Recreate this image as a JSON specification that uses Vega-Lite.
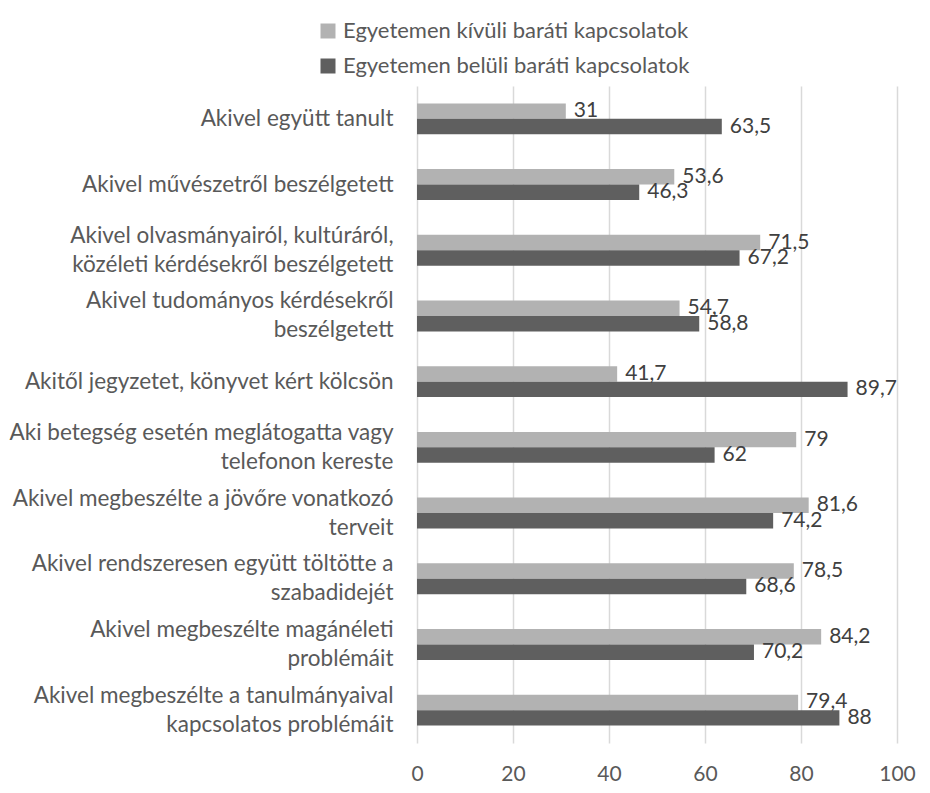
{
  "$schema": "https://vega.github.io/schema/vega-lite/v6.json",
  "width": 480,
  "height": 657,
  "autosize": {"type": "none"},
  "padding": {"left": 417, "top": 86, "right": 33, "bottom": 50},
  "background": "white",
  "config": {
    "font": "Lato",
    "view": {"stroke": null},
    "locale": {"number": {"decimal": ",", "thousands": " ", "grouping": [3], "currency": ["", ""]}}
  },
  "data": {
    "values": [
      {"kategoria": "Akivel együtt tanult", "kor": "Egyetemen kívüli baráti kapcsolatok", "ertek": 31},
      {"kategoria": "Akivel együtt tanult", "kor": "Egyetemen belüli baráti kapcsolatok", "ertek": 63.5},
      {"kategoria": "Akivel művészetről beszélgetett", "kor": "Egyetemen kívüli baráti kapcsolatok", "ertek": 53.6},
      {"kategoria": "Akivel művészetről beszélgetett", "kor": "Egyetemen belüli baráti kapcsolatok", "ertek": 46.3},
      {"kategoria": "Akivel olvasmányairól, kultúráról,\nközéleti kérdésekről beszélgetett", "kor": "Egyetemen kívüli baráti kapcsolatok", "ertek": 71.5},
      {"kategoria": "Akivel olvasmányairól, kultúráról,\nközéleti kérdésekről beszélgetett", "kor": "Egyetemen belüli baráti kapcsolatok", "ertek": 67.2},
      {"kategoria": "Akivel tudományos kérdésekről\nbeszélgetett", "kor": "Egyetemen kívüli baráti kapcsolatok", "ertek": 54.7},
      {"kategoria": "Akivel tudományos kérdésekről\nbeszélgetett", "kor": "Egyetemen belüli baráti kapcsolatok", "ertek": 58.8},
      {"kategoria": "Akitől jegyzetet, könyvet kért kölcsön", "kor": "Egyetemen kívüli baráti kapcsolatok", "ertek": 41.7},
      {"kategoria": "Akitől jegyzetet, könyvet kért kölcsön", "kor": "Egyetemen belüli baráti kapcsolatok", "ertek": 89.7},
      {"kategoria": "Aki betegség esetén meglátogatta vagy\ntelefonon kereste", "kor": "Egyetemen kívüli baráti kapcsolatok", "ertek": 79},
      {"kategoria": "Aki betegség esetén meglátogatta vagy\ntelefonon kereste", "kor": "Egyetemen belüli baráti kapcsolatok", "ertek": 62},
      {"kategoria": "Akivel megbeszélte a jövőre vonatkozó\nterveit", "kor": "Egyetemen kívüli baráti kapcsolatok", "ertek": 81.6},
      {"kategoria": "Akivel megbeszélte a jövőre vonatkozó\nterveit", "kor": "Egyetemen belüli baráti kapcsolatok", "ertek": 74.2},
      {"kategoria": "Akivel rendszeresen együtt töltötte a\nszabadidejét", "kor": "Egyetemen kívüli baráti kapcsolatok", "ertek": 78.5},
      {"kategoria": "Akivel rendszeresen együtt töltötte a\nszabadidejét", "kor": "Egyetemen belüli baráti kapcsolatok", "ertek": 68.6},
      {"kategoria": "Akivel megbeszélte magánéleti\nproblémáit", "kor": "Egyetemen kívüli baráti kapcsolatok", "ertek": 84.2},
      {"kategoria": "Akivel megbeszélte magánéleti\nproblémáit", "kor": "Egyetemen belüli baráti kapcsolatok", "ertek": 70.2},
      {"kategoria": "Akivel megbeszélte a tanulmányaival\nkapcsolatos problémáit", "kor": "Egyetemen kívüli baráti kapcsolatok", "ertek": 79.4},
      {"kategoria": "Akivel megbeszélte a tanulmányaival\nkapcsolatos problémáit", "kor": "Egyetemen belüli baráti kapcsolatok", "ertek": 88}
    ]
  },
  "encoding": {
    "y": {
      "field": "kategoria",
      "type": "nominal",
      "sort": null,
      "title": null,
      "scale": {"paddingInner": 0.53, "paddingOuter": 0.265},
      "axis": {
        "labelExpr": "split(datum.value, '\\n')",
        "labelAlign": "right",
        "labelBaseline": "middle",
        "labelFontSize": 22.5,
        "labelLineHeight": 29,
        "labelColor": "#595959",
        "labelPadding": 24,
        "labelLimit": 0,
        "labelOffset": {
          "condition": {"test": "indexof(datum.value, '\\n') >= 0", "value": -14.5},
          "value": 0
        },
        "ticks": false,
        "domain": false,
        "grid": false
      }
    },
    "x": {
      "field": "ertek",
      "type": "quantitative",
      "title": null,
      "scale": {"domain": [0, 100], "nice": false},
      "axis": {
        "values": [0, 20, 40, 60, 80, 100],
        "labelFontSize": 21,
        "labelColor": "#595959",
        "labelPadding": 20,
        "ticks": false,
        "domain": false,
        "grid": true,
        "gridColor": "#d9d9d9",
        "gridWidth": 1.5,
        "labelFlush": false
      }
    },
    "yOffset": {
      "field": "kor",
      "type": "nominal",
      "sort": ["Egyetemen kívüli baráti kapcsolatok", "Egyetemen belüli baráti kapcsolatok"],
      "scale": {"paddingInner": 0, "paddingOuter": 0}
    }
  },
  "layer": [
    {
      "mark": {"type": "bar"},
      "encoding": {
        "color": {
          "field": "kor",
          "type": "nominal",
          "scale": {
            "domain": ["Egyetemen kívüli baráti kapcsolatok", "Egyetemen belüli baráti kapcsolatok"],
            "range": ["#b2b2b2", "#5f5f5f"]
          },
          "legend": {
            "title": null,
            "orient": "none",
            "legendX": -100,
            "legendY": -66,
            "direction": "vertical",
            "symbolType": "square",
            "symbolSize": 225,
            "symbolStrokeWidth": 0,
            "labelFontSize": 22,
            "labelColor": "#595959",
            "labelOffset": 4,
            "rowPadding": 13,
            "labelLimit": 0
          }
        }
      }
    },
    {
      "mark": {"type": "text", "align": "left", "baseline": "middle", "dx": 8, "fontSize": 21, "color": "#404040"},
      "encoding": {
        "text": {"field": "ertek", "type": "quantitative", "format": "~g"}
      }
    }
  ]
}
